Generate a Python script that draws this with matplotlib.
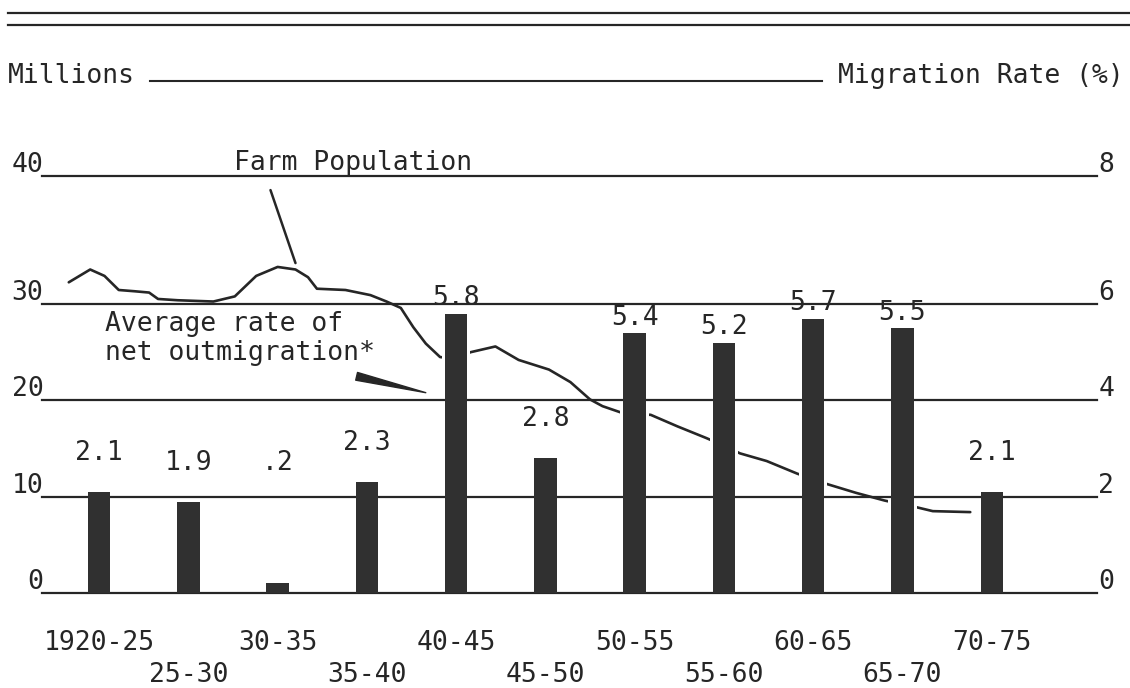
import numpy as np
import matplotlib
from matplotlib import pyplot as plt
from matplotlib.lines import Line2D

matplotlib.use("Agg")

# --- data ---
periods = ["1920-25", "25-30", "30-35", "35-40", "40-45", "45-50",
           "50-55", "55-60", "60-65", "65-70", "70-75"]
rates = [2.1, 1.9, 0.2, 2.3, 5.8, 2.8, 5.4, 5.2, 5.7, 5.5, 2.1]
rate_labels = ["2.1", "1.9", ".2", "2.3", "5.8", "2.8",
               "5.4", "5.2", "5.7", "5.5", "2.1"]

# farm population (millions), sampled along the drawn curve
pop_years = [1920.8, 1922.0, 1922.8, 1923.6, 1924.5, 1925.3, 1925.8, 1926.9,
             1928.9, 1930.1, 1931.3, 1932.5, 1933.5, 1934.2, 1934.7, 1936.3,
             1937.7, 1938.6, 1939.4, 1940.1, 1940.8, 1941.6, 1942.5, 1943.3,
             1944.7, 1946.0, 1947.7, 1948.9, 1950.0, 1950.7, 1951.8, 1952.5,
             1953.4, 1954.9, 1956.5, 1957.5, 1958.4, 1959.9, 1961.6, 1962.5,
             1963.3, 1964.9, 1966.5, 1967.5, 1968.3, 1969.2, 1971.3]
pop_millions = [31.7, 32.7, 32.2, 31.1, 31.0, 30.9, 30.4, 30.3,
                30.2, 30.6, 32.2, 32.9, 32.7, 32.1, 31.2, 31.1,
                30.7, 30.2, 29.6, 27.6, 25.9, 24.5, 24.3, 25.0,
                25.6, 24.2, 23.2, 21.9, 20.1, 19.4, 18.7, 18.6,
                18.5, 17.3, 16.1, 15.3, 14.5, 13.7, 12.4, 11.8,
                11.3, 10.4, 9.6, 9.2, 8.9, 8.5, 8.4]

left_ticks = [0, 10, 20, 30, 40]
right_ticks = [0, 2, 4, 6, 8]
RATE_TO_MILLIONS = 5

INK = "#262626"
BAR = "#303030"

plt.rcParams["font.family"] = ["DejaVu Sans Mono", "DejaVu Sans"]
plt.rcParams["font.size"] = 19
plt.rcParams["text.color"] = INK

# the hand-drawn scale is stretched above 30 million
STRETCH = 1.33


def warp(v):
    v = np.asarray(v, dtype=float)
    return np.where(v <= 30, v, 30 + (v - 30) * STRETCH)


def unwarp(w):
    w = np.asarray(w, dtype=float)
    return np.where(w <= 30, w, 30 + (w - 30) / STRETCH)


W, H = 1130, 688


def fx(px):
    return px / W


def fy(py):
    return 1 - py / H


fig = plt.figure(figsize=(W / 100, H / 100), dpi=100)
ax = fig.add_axes([fx(42), fy(593), fx(1097) - fx(42), fy(176) - fy(593)])
ax2 = ax.twinx()

ax.set_yscale("function", functions=(warp, unwarp))
ax2.set_yscale("function", functions=(
    lambda r: warp(np.asarray(r, dtype=float) * RATE_TO_MILLIONS),
    lambda w: unwarp(w) / RATE_TO_MILLIONS))
ax.set_ylim(left_ticks[0], left_ticks[-1])
ax2.set_ylim(right_ticks[0], right_ticks[-1])
ax.set_xlim(-0.64, 11.18)

for a in (ax, ax2):
    for s in a.spines.values():
        s.set_visible(False)
    a.set_yticks([])

# farm population curve (behind the bars)
x_pop = (np.array(pop_years) - 1922.5) / 5
ax.plot(x_pop, pop_millions, color=INK, lw=1.9, zorder=1,
        solid_capstyle="round", solid_joinstyle="round", clip_on=False)

# bars with a white halo so the curve breaks around them
idx = np.arange(len(periods))
ax2.bar(idx, rates, width=0.32, color="white", zorder=1)
for r in right_ticks:
    ax2.axhline(r, color=INK, lw=1.6, zorder=1.5, clip_on=False)
ax2.bar(idx, rates, width=0.25, color=BAR, zorder=2)

for i, (r, lbl) in enumerate(zip(rates, rate_labels)):
    ax2.annotate(lbl, xy=(i, max(r, 1.9)), xytext=(0, 28 if r < 4 else 11),
                 textcoords="offset points", ha="center", va="center",
                 zorder=3)

# axis labels sitting on the grid lines
for v in left_ticks:
    ax.annotate(str(v), xy=(0, v), xycoords=ax.get_yaxis_transform(),
                xytext=(1, 3), textcoords="offset points",
                ha="right", va="baseline", annotation_clip=False)
for r in right_ticks:
    ax2.annotate(str(r), xy=(1, r), xycoords=ax2.get_yaxis_transform(),
                 xytext=(1, 3), textcoords="offset points",
                 ha="left", va="baseline", annotation_clip=False)

ax.set_xticks(idx)
ax.set_xticklabels([p if i % 2 == 0 else "\n" + p
                    for i, p in enumerate(periods)])
ax.tick_params(axis="x", length=0, pad=27, colors=INK)
for t in ax.get_xticklabels():
    t.set_linespacing(1.3)

# annotations
ax.annotate("Farm Population", xy=(2.85, 40), xytext=(0, 4),
            textcoords="offset points", ha="center", va="baseline",
            annotation_clip=False)
ax.annotate("", xy=(2.2, 33.2), xytext=(1.92, 38.9),
            arrowprops=dict(arrowstyle="-", lw=1.8, color=INK,
                            shrinkA=0, shrinkB=0))
ax.text(0.07, 29.3, "Average rate of\nnet outmigration*",
        ha="left", va="top", linespacing=1.15)
ax.annotate("", xy=(3.66, 20.8), xytext=(2.885, 22.5),
            arrowprops=dict(arrowstyle="wedge,tail_width=0.3",
                            color=INK, shrinkA=0, shrinkB=0))

# header
fig.text(fx(8), fy(83), "Millions", ha="left", va="baseline")
fig.text(fx(1124), fy(83), "Migration Rate (%)", ha="right", va="baseline")
fig.add_artist(Line2D([fx(150), fx(822)], [fy(81), fy(81)],
                      color=INK, lw=1.5))
for py in (13, 25):
    fig.add_artist(Line2D([fx(8), 1], [fy(py), fy(py)], color=INK, lw=1.6))

fig.savefig("out.png", dpi=100)
